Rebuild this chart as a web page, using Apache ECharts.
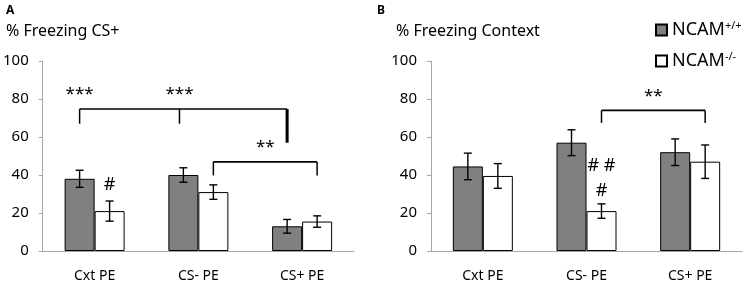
<!DOCTYPE html>
<html>
<head>
<meta charset="utf-8">
<script src="https://cdn.jsdelivr.net/npm/echarts@6/dist/echarts.min.js"></script>
<style>
  html, body { margin: 0; padding: 0; background: #fff; }
  #chart { width: 744px; height: 287px; }
</style>
</head>
<body>
<div id="chart"></div>
<script>
// data
var categories = ['Cxt PE', 'CS- PE', 'CS+ PE'];
var seriesNames = ['NCAM+/+', 'NCAM-/-'];

// panel A: % freezing CS+
var csWtMean = [38, 40, 13];
var csWtErr = [4.5, 3.8, 3.6];
var csKoMean = [21, 31, 15.5];
var csKoErr = [5.3, 3.8, 3];

// panel B: % freezing context
var ctxWtMean = [44.5, 57, 52];
var ctxWtErr = [7, 6.8, 7];
var ctxKoMean = [39.5, 21, 47];
var ctxKoErr = [6.5, 3.8, 8.8];

var yMin = 0, yMax = 100, yStep = 20;

// significance marks: [category, bar offset, value]
var bracketsA = [
  { y: 74.7, legs: [[0, -0.5, 67, 1.5], [1, -0.63, 67, 1.5], [2, -0.5, 57, 3]] },
  { y: 46.9, legs: [[1, 0.5, 39.8, 1.5], [2, 0.5, 39.8, 1.5]] }
];
var labelsA = [
  { cat: 0, off: -0.5, y: 82.5, text: '***' },
  { cat: 1, off: -0.63, y: 82.5, text: '***' },
  { cat: 1.5, off: 0.5, y: 54.5, text: '**' },
  { cat: 0, off: 0.5, y: 35, text: '#' }
];
var bracketsB = [
  { y: 74, legs: [[1, 0.5, 67.4, 1.5], [2, 0.5, 67.4, 1.5]] }
];
var labelsB = [
  { cat: 1.5, off: 0.5, y: 81.5, text: '**' },
  { cat: 1, off: 0.5, y: 45, text: '# #' },
  { cat: 1, off: 0.5, y: 31.5, text: '#' }
];

var BAR_W = 30;
var FONT = '"Noto Sans", sans-serif';
var chart = echarts.init(document.getElementById('chart'));

function xPos(api, cat, off) {
  var base = api.coord([0, 0])[0];
  var band = api.size([1, 0])[0];
  return base + cat * band + off * BAR_W;
}

function errorSeries(axis, side, means, errs) {
  return {
    type: 'custom',
    xAxisIndex: axis,
    yAxisIndex: axis,
    z: 5,
    silent: true,
    data: means.map(function (m, i) { return [i, m, errs[i]]; }),
    renderItem: function (params, api) {
      var c = api.value(0), m = api.value(1), e = api.value(2);
      var lo = api.coord([c, m - e]);
      var hi = api.coord([c, m + e]);
      var x = lo[0] + side * BAR_W / 2;
      var s = { stroke: '#000', lineWidth: 1.4 };
      return {
        type: 'group',
        children: [
          { type: 'line', shape: { x1: x, y1: lo[1], x2: x, y2: hi[1] }, style: s },
          { type: 'line', shape: { x1: x - 4, y1: lo[1], x2: x + 4, y2: lo[1] }, style: s },
          { type: 'line', shape: { x1: x - 4, y1: hi[1], x2: x + 4, y2: hi[1] }, style: s }
        ]
      };
    }
  };
}

function markSeries(axis, brackets, labels) {
  var items = brackets.map(function (b) { return { kind: 'b', v: b }; })
    .concat(labels.map(function (l) { return { kind: 't', v: l }; }));
  return {
    type: 'custom',
    xAxisIndex: axis,
    yAxisIndex: axis,
    z: 6,
    silent: true,
    data: items.map(function () { return [0, 0]; }),
    renderItem: function (params, api) {
      var it = items[params.dataIndex];
      if (it.kind === 't') {
        var l = it.v;
        return {
          type: 'text',
          style: {
            x: xPos(api, l.cat, l.off),
            y: api.coord([0, l.y])[1],
            text: l.text,
            fill: '#000',
            font: (l.text.charAt(0) === '#' ? '18px ' : '17px ') + FONT,
            align: 'center',
            verticalAlign: 'middle'
          }
        };
      }
      var b = it.v;
      var yTop = api.coord([0, b.y])[1];
      var xs = b.legs.map(function (g) { return xPos(api, g[0], g[1]); });
      var kids = [{
        type: 'line',
        shape: { x1: xs[0], y1: yTop, x2: xs[xs.length - 1], y2: yTop },
        style: { stroke: '#000', lineWidth: 1.6 }
      }];
      b.legs.forEach(function (g, i) {
        kids.push({
          type: 'line',
          shape: { x1: xs[i], y1: yTop, x2: xs[i], y2: api.coord([0, g[2]])[1] },
          style: { stroke: '#000', lineWidth: g[3] }
        });
      });
      return { type: 'group', children: kids };
    }
  };
}

function barSeries(axis, idx, data) {
  return {
    name: seriesNames[idx],
    type: 'bar',
    xAxisIndex: axis,
    yAxisIndex: axis,
    barWidth: BAR_W,
    barGap: '0%',
    data: data,
    itemStyle: {
      color: idx === 0 ? '#808080' : '#ffffff',
      borderColor: '#000',
      borderWidth: 1
    }
  };
}

function xAxisOf(gi) {
  return {
    type: 'category',
    gridIndex: gi,
    data: categories,
    axisLine: { lineStyle: { color: '#a6a6a6', width: 1 } },
    axisTick: { length: 4, lineStyle: { color: '#a6a6a6' } },
    axisLabel: { color: '#000', fontSize: 14, fontFamily: FONT, margin: 18 }
  };
}

function yAxisOf(gi) {
  return {
    type: 'value',
    gridIndex: gi,
    min: yMin,
    max: yMax,
    interval: yStep,
    axisLine: { show: true, lineStyle: { color: '#a6a6a6', width: 1 } },
    axisTick: { show: true, length: 4, lineStyle: { color: '#a6a6a6' } },
    splitLine: { show: false },
    axisLabel: { color: '#000', fontSize: 15, fontFamily: FONT, margin: 14 }
  };
}

var option = {
  backgroundColor: '#fff',
  animation: false,
  title: [
    { text: 'A', left: 1, top: 0, textStyle: { fontSize: 12, fontWeight: 'bold', color: '#000', fontFamily: FONT } },
    { text: '% Freezing CS+', left: 1, top: 18, textStyle: { fontSize: 16, fontWeight: 'normal', color: '#000', fontFamily: FONT } },
    { text: 'B', left: 372, top: 0, textStyle: { fontSize: 12, fontWeight: 'bold', color: '#000', fontFamily: FONT } },
    { text: '% Freezing Context', left: 391, top: 18, textStyle: { fontSize: 16, fontWeight: 'normal', color: '#000', fontFamily: FONT } }
  ],
  legend: {
    data: seriesNames,
    orient: 'vertical',
    left: 650,
    top: 15,
    itemWidth: 11,
    itemHeight: 11,
    itemGap: 12,
    icon: 'rect',
    textStyle: {
      color: '#000',
      fontSize: 18,
      fontFamily: FONT,
      rich: {
        sup: { fontSize: 11, fontFamily: FONT, color: '#000', verticalAlign: 'top', lineHeight: 20 }
      }
    },
    formatter: function (name) {
      return 'NCAM{sup|' + name.slice(4) + '}';
    }
  },
  grid: [
    { left: 42, top: 61, width: 312, height: 190 },
    { left: 431, top: 61, width: 311, height: 190 }
  ],
  xAxis: [xAxisOf(0), xAxisOf(1)],
  yAxis: [yAxisOf(0), yAxisOf(1)],
  series: [
    barSeries(0, 0, csWtMean),
    barSeries(0, 1, csKoMean),
    barSeries(1, 0, ctxWtMean),
    barSeries(1, 1, ctxKoMean),
    errorSeries(0, -1, csWtMean, csWtErr),
    errorSeries(0, 1, csKoMean, csKoErr),
    errorSeries(1, -1, ctxWtMean, ctxWtErr),
    errorSeries(1, 1, ctxKoMean, ctxKoErr),
    markSeries(0, bracketsA, labelsA),
    markSeries(1, bracketsB, labelsB)
  ]
};

chart.setOption(option);
</script>
</body>
</html>
